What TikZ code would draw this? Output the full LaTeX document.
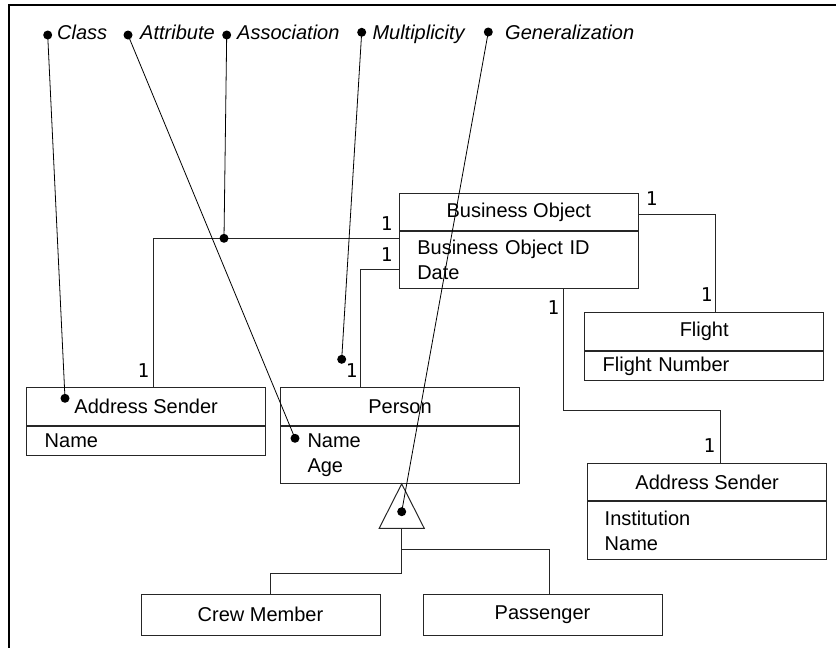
\documentclass[tikz,border=0pt]{standalone}
\usepackage{fontspec}
\setmainfont{Liberation Sans}
\newfontfamily\multfont{DejaVu Sans Mono}
\usetikzlibrary{positioning,calc}

\tikzset{
  classtitle/.style={draw=black!85, line width=1pt, minimum width=239pt, minimum height=37.5pt,
    inner sep=0pt, font=\fontsize{20}{25}\selectfont},
  classattr/.style={draw=black!85, line width=1pt, minimum width=239pt, text width=203pt,
    inner xsep=18pt, inner ysep=0pt, align=left, font=\fontsize{20}{25}\selectfont},
  link/.style={black!85, line width=1pt},
  mult/.style={inner sep=0pt, font=\multfont\fontsize{19}{20}\selectfont},
  note/.style={anchor=base west, inner sep=0pt, font=\fontsize{20}{24}\selectfont\itshape},
  pin/.style={circle, fill=black, minimum size=9pt, inner sep=0pt},
  pointer/.style={black, line width=0.8pt},
}

\begin{document}
\begin{tikzpicture}[x=1pt, y=-1pt]
  \useasboundingbox (0,0) rectangle (836,648);
  % frame
  \draw[line width=2.5pt] (9,648) -- (9,5) -- (836,5);

  % classes
  \node[classtitle] (bo) at (518.8,212.2) {Business Object};
  \node[classattr, minimum height=56.7pt, below=0pt of bo] (bo attr) {Business Object ID\\Date};

  \node[classtitle] (flight) at (704.2,331.7) {Flight};
  \node[classattr, minimum height=29pt, below=0pt of flight] (flight attr) {Flight Number};

  \node[classtitle] (asl) at (146.2,406.3) {Address Sender};
  \node[classattr, minimum height=29pt, below=0pt of asl] (asl attr) {Name};

  \node[classtitle] (person) at (400,406.3) {Person};
  \node[classattr, minimum height=57.3pt, inner xsep=27pt, text width=185pt, below=0pt of person] (person attr) {Name\\Age};

  \node[classtitle] (asr) at (707.2,482) {Address Sender};
  \node[classattr, minimum height=57.6pt, inner xsep=17pt, text width=205pt, below=0pt of asr] (asr attr) {Institution\\Name};

  \node[classtitle, minimum height=41pt] (crew) at (260.5,614.5) {Crew Member};
  \node[classtitle, minimum height=41pt] (passenger) at (542.5,614.5) {Passenger};

  % associations
  \draw[link] ([yshift=-7.3pt]bo attr.north west) -| ([xshift=7.1pt]asl.north);
  \draw[link] ([yshift=-38.3pt]bo attr.north west) -| ([xshift=-39.3pt]person.north);
  \draw[link] ([yshift=-1.8pt]bo.east) -| ([xshift=11.5pt]flight.north);
  \draw[link] ([xshift=44.9pt]bo attr.south) -- ++(0,121) -| ([xshift=13.5pt]asr.north);

  % multiplicities
  \node[mult] (m bo asl) at (386.7,223.5) {1};
  \node[mult] (m asl) at (143.3,370.7) {1};
  \node[mult] (m bo person) at (386.7,255) {1};
  \node[mult] (m person) at (351.7,370.7) {1};
  \node[mult] (m bo flight) at (651.7,198.3) {1};
  \node[mult] (m flight) at (706.7,295) {1};
  \node[mult] (m bo asr) at (553.3,307.7) {1};
  \node[mult] (m asr) at (709.3,445.7) {1};

  % generalization
  \coordinate (gen apex) at ([xshift=1.7pt]person attr.south);
  \draw[link] (gen apex) -- ++(-22.5,44.4) -- ++(45,0) -- cycle;
  \coordinate (gen base) at ($(gen apex)+(0,44.4)$);
  \draw[link] (gen base) -- ++(0,21.6) -| ([xshift=6.5pt]passenger.north);
  \draw[link] (gen base) -- ++(0,45) -| ([xshift=9.5pt]crew.north);

  % notes on top
  \node[pin] (class pin) at (47.7,35) {};
  \node[note] (class lbl) at (57,39.7) {Class};
  \node[pin] (attr pin) at (128,35) {};
  \node[note] (attr lbl) at (140,39.7) {Attribute};
  \node[pin] (assoc pin) at (226.7,35) {};
  \node[note] (assoc lbl) at (237,39.7) {Association};
  \node[pin] (mult pin) at (361.7,32.3) {};
  \node[note] (mult lbl) at (372.3,39.7) {Multiplicity};
  \node[pin] (gen pin) at (488.3,32) {};
  \node[note] (gen lbl) at (505,39.7) {Generalization};

  \node[pin] (class end) at (65,398.3) {};
  \node[pin] (attr end) at (295,438.3) {};
  \node[pin] (assoc end) at (224,238.3) {};
  \node[pin] (mult end) at (341.7,359.3) {};
  \node[pin] (gen end) at (401.7,511.7) {};

  \draw[pointer] (class pin.center) -- (class end.center);
  \draw[pointer] (attr pin.center) -- (attr end.center);
  \draw[pointer] (assoc pin.center) -- (assoc end.center);
  \draw[pointer] (mult pin.center) -- (mult end.center);
  \draw[pointer] (gen pin.center) -- (gen end.center);
\end{tikzpicture}
\end{document}
